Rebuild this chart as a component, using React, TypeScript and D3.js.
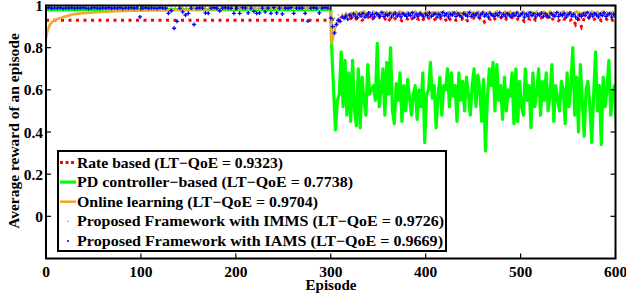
import React from "react";
import * as d3 from "d3";

const W = 626;
const H = 297;

// x ticks / y ticks
const xTicks = [0, 100, 200, 300, 400, 500, 600];
const yTicks = [0, 0.2, 0.4, 0.6, 0.8, 1];
const yTickLabels = ["0", "0.2", "0.4", "0.6", "0.8", "1"];

// Rate based: constant before 300, noisy after (episodes 300..600 step 3)
const ratePre = [0.93, 0.93];
const ratePreEp = [0, 300];
const ratePost = [
  0.93, 0.935, 0.94, 0.928, 0.936, 0.945, 0.932, 0.94, 0.925, 0.938,
  0.942, 0.93, 0.936, 0.948, 0.927, 0.94, 0.935, 0.944, 0.93, 0.938,
  0.92, 0.94, 0.946, 0.933, 0.938, 0.928, 0.942, 0.936, 0.95, 0.93,
  0.94, 0.934, 0.945, 0.925, 0.938, 0.942, 0.93, 0.937, 0.948, 0.932,
  0.94, 0.918, 0.936, 0.944, 0.93, 0.94, 0.935, 0.946, 0.928, 0.938,
  0.942, 0.93, 0.936, 0.945, 0.922, 0.94, 0.935, 0.948, 0.93, 0.938,
  0.944, 0.928, 0.94, 0.934, 0.946, 0.93, 0.938, 0.942, 0.925, 0.94,
  0.935, 0.945, 0.93, 0.938, 0.942, 0.932, 0.946, 0.93, 0.936, 0.94,
  0.928, 0.944, 0.935, 0.94, 0.93, 0.938, 0.91, 0.935, 0.90, 0.94,
  0.932, 0.945, 0.93, 0.938, 0.942, 0.928, 0.94, 0.935, 0.945, 0.93,
  0.938,
];
const rateStep = 3;

// PD controller-based
const pdPre = [0.98, 0.98];
const pdPreEp = [0, 300];
const pdPost = [
  0.8, 0.6, 0.41, 0.55, 0.58, 0.78, 0.52, 0.74, 0.48, 0.68,
  0.45, 0.74, 0.5, 0.43, 0.7, 0.42, 0.66, 0.55, 0.48, 0.72,
  0.58, 0.6, 0.62, 0.55, 0.82, 0.52, 0.6, 0.7, 0.48, 0.73,
  0.58, 0.8, 0.5, 0.44, 0.63, 0.55, 0.68, 0.45, 0.62, 0.5,
  0.65, 0.56, 0.48, 0.58, 0.62, 0.46, 0.6, 0.52, 0.68, 0.35,
  0.58, 0.6, 0.73, 0.56, 0.62, 0.42, 0.57, 0.66, 0.48, 0.62,
  0.6, 0.7, 0.52, 0.68, 0.57, 0.62, 0.45, 0.68, 0.55, 0.64,
  0.5, 0.66, 0.58, 0.48, 0.62, 0.7, 0.52, 0.67, 0.6, 0.45,
  0.65, 0.31, 0.56, 0.7, 0.62, 0.73, 0.5, 0.72, 0.55, 0.62,
  0.46, 0.66, 0.5, 0.6, 0.57, 0.68, 0.44, 0.7, 0.45, 0.64,
  0.52, 0.48, 0.7, 0.55, 0.62, 0.42, 0.68, 0.52, 0.58, 0.7,
  0.48, 0.64, 0.55, 0.68, 0.5, 0.58, 0.72, 0.45, 0.62, 0.56,
  0.5, 0.64, 0.6, 0.44, 0.68, 0.52, 0.62, 0.8, 0.48, 0.66,
  0.4, 0.72, 0.55, 0.38, 0.6, 0.64, 0.52, 0.35, 0.58, 0.78,
  0.5, 0.62, 0.34, 0.66, 0.52, 0.6, 0.74, 0.48, 0.58, 0.62,
  0.44,
];
const pdPostStart = 301;
const pdStep = 2;

// Online learning
const onlinePreEp = [0, 1, 2, 4, 6, 10, 15, 20, 29, 40, 57, 80, 120, 160, 200, 250, 300];
const onlinePre = [0.846, 0.87, 0.885, 0.907, 0.92, 0.932, 0.94, 0.948, 0.959, 0.964, 0.969, 0.974, 0.978, 0.981, 0.984, 0.985, 0.985];
const onlinePost = [
  0.82, 0.86, 0.9, 0.92, 0.94, 0.945, 0.95, 0.955, 0.96, 0.952,
  0.965, 0.958, 0.962, 0.97, 0.955, 0.966, 0.96, 0.972, 0.958, 0.965,
  0.968, 0.955, 0.97, 0.962, 0.966, 0.958, 0.972, 0.96, 0.965, 0.97,
  0.955, 0.968, 0.962, 0.97, 0.958, 0.965, 0.972, 0.96, 0.966, 0.955,
  0.97, 0.962, 0.968, 0.958, 0.972, 0.965, 0.96, 0.97, 0.955, 0.966,
  0.962, 0.972, 0.958, 0.968, 0.965, 0.96, 0.97, 0.955, 0.966, 0.972,
  0.96, 0.965, 0.97, 0.958, 0.968, 0.962, 0.972, 0.955, 0.966, 0.96,
  0.97, 0.964, 0.958, 0.972, 0.962, 0.968, 0.955, 0.97, 0.96, 0.966,
  0.972, 0.958, 0.965, 0.97, 0.962, 0.955, 0.968, 0.972, 0.96, 0.966,
  0.958, 0.97, 0.964, 0.96, 0.972, 0.955, 0.968, 0.962, 0.97, 0.958,
  0.966, 0.972, 0.96, 0.965, 0.97, 0.955, 0.968, 0.962, 0.972, 0.958,
  0.966, 0.96, 0.97, 0.964, 0.955, 0.972, 0.962, 0.968, 0.958, 0.97,
  0.96, 0.966, 0.972, 0.955, 0.968, 0.962, 0.97, 0.958, 0.965, 0.972,
  0.96, 0.966, 0.955, 0.97, 0.962, 0.968, 0.958, 0.972, 0.964, 0.96,
  0.97, 0.955, 0.966, 0.972, 0.96, 0.968, 0.962, 0.958, 0.97, 0.965,
];
const onlinePostStart = 301;
const onlineStep = 2;

// Proposed framework with IMMS (small gray dots), episodes step 4
const immsValues = [
  0.99, 0.99, 0.988, 0.99, 0.99, 0.989, 0.99, 0.99, 0.988, 0.99,
  0.99, 0.989, 0.99, 0.988, 0.99, 0.99, 0.989, 0.99, 0.99, 0.988,
  0.99, 0.99, 0.989, 0.99, 0.988, 0.99, 0.99, 0.989, 0.99, 0.99,
  0.988, 0.99, 0.99, 0.989, 0.99, 0.988, 0.99, 0.99, 0.989, 0.99,
  0.99, 0.988, 0.99, 0.99, 0.989, 0.99, 0.988, 0.99, 0.99, 0.989,
  0.99, 0.988, 0.99, 0.99, 0.989, 0.99, 0.988, 0.99, 0.99, 0.989,
  0.99, 0.988, 0.99, 0.99, 0.989, 0.99, 0.988, 0.99, 0.99, 0.989,
  0.99, 0.988, 0.99, 0.99, 0.989,
  0.92, 0.94, 0.955, 0.96, 0.965, 0.958, 0.968, 0.962, 0.97, 0.96,
  0.966, 0.972, 0.96, 0.965, 0.97, 0.958, 0.968, 0.962, 0.972, 0.96,
  0.966, 0.958, 0.97, 0.964, 0.96, 0.972, 0.962, 0.968, 0.958, 0.97,
  0.96, 0.966, 0.972, 0.962, 0.968, 0.96, 0.97, 0.958, 0.966, 0.972,
  0.96, 0.965, 0.97, 0.962, 0.968, 0.958, 0.972, 0.964, 0.96, 0.97,
  0.962, 0.968, 0.958, 0.97, 0.964, 0.96, 0.972, 0.962, 0.966, 0.96,
  0.97, 0.964, 0.958, 0.968, 0.962, 0.97, 0.96, 0.966, 0.972, 0.962,
  0.968, 0.96, 0.97, 0.964, 0.96,
];
const immsStep = 4;

// Proposed framework with IAMS (blue +), pre: step 3 from 0
const iamsPre = [
  0.988, 0.99, 0.987, 0.989, 0.988, 0.99, 0.986, 0.989, 0.988, 0.99,
  0.987, 0.989, 0.988, 0.99, 0.988, 0.986, 0.989, 0.99, 0.988, 0.987,
  0.989, 0.988, 0.99, 0.987, 0.989, 0.988, 0.99, 0.986, 0.989, 0.988,
  0.99, 0.987, 0.989, 0.946, 0.988, 0.99, 0.987, 0.989, 0.988, 0.986,
  0.99, 0.988, 0.987, 0.963, 0.975, 0.892, 0.925, 0.988, 0.97, 0.955,
  0.963, 0.988, 0.91, 0.987, 0.989, 0.988, 0.965, 0.963, 0.988, 0.99,
  0.987, 0.975, 0.988, 0.99, 0.988, 0.987, 0.963, 0.988, 0.963, 0.99,
  0.988, 0.965, 0.988, 0.972, 0.963, 0.965, 0.988, 0.97, 0.988, 0.963,
  0.99, 0.965, 0.988, 0.96, 0.988, 0.987, 0.99, 0.963, 0.988, 0.987,
  0.988, 0.963, 0.926, 0.988, 0.99, 0.987, 0.965, 0.988, 0.99, 0.988,
];
const iamsPreStep = 3;
// post: step 2 from 300
const iamsPost = [
  0.94, 0.9, 0.87, 0.91, 0.93, 0.925, 0.945, 0.94, 0.95, 0.935,
  0.955, 0.945, 0.96, 0.95, 0.942, 0.958, 0.95, 0.962, 0.945, 0.955,
  0.965, 0.95, 0.958, 0.946, 0.962, 0.955, 0.95, 0.966, 0.948, 0.958,
  0.952, 0.962, 0.945, 0.956, 0.964, 0.95, 0.958, 0.946, 0.962, 0.955,
  0.948, 0.96, 0.952, 0.966, 0.945, 0.958, 0.95, 0.962, 0.955, 0.946,
  0.96, 0.952, 0.965, 0.948, 0.956, 0.962, 0.945, 0.958, 0.95, 0.966,
  0.952, 0.96, 0.946, 0.958, 0.955, 0.964, 0.948, 0.96, 0.952, 0.945,
  0.962, 0.955, 0.95, 0.966, 0.948, 0.958, 0.952, 0.962, 0.945, 0.956,
  0.964, 0.95, 0.958, 0.946, 0.962, 0.955, 0.948, 0.96, 0.952, 0.966,
  0.945, 0.958, 0.95, 0.962, 0.955, 0.946, 0.96, 0.952, 0.965, 0.948,
  0.956, 0.962, 0.945, 0.958, 0.95, 0.966, 0.952, 0.96, 0.946, 0.958,
  0.955, 0.964, 0.948, 0.96, 0.952, 0.945, 0.962, 0.955, 0.95, 0.966,
  0.948, 0.958, 0.952, 0.962, 0.945, 0.956, 0.964, 0.95, 0.958, 0.946,
  0.935, 0.955, 0.948, 0.96, 0.952, 0.966, 0.945, 0.958, 0.95, 0.962,
  0.955, 0.946, 0.96, 0.952, 0.965, 0.948, 0.956, 0.962, 0.945, 0.958,
  0.95,
];
const iamsPostStart = 300;
const iamsPostStep = 2;

const legendLabels = [
  "Rate based (LT\u2212QoE = 0.9323)",
  "PD controller\u2212based (LT\u2212QoE = 0.7738)",
  "Online learning (LT\u2212QoE = 0.9704)",
  "Proposed Framework with IMMS (LT\u2212QoE = 0.9726)",
  "Proposed Framework with IAMS (LT\u2212QoE = 0.9669)",
];
const legendTextWidths = [206, 276, 241, 367, 366];

const RED = "#ff0000";
const GREEN = "#00ff00";
const ORANGE = "#f0a830";
const BLUE = "#0000ff";
const GRAY = "#8a8a8a";

type P = [number, number];

export default function App() {
  const left = 46, right = 615.5, top = 5.5, bottom = 258.5;
  const x = d3.scaleLinear().domain([0, 600]).range([left, right]);
  const y = d3.scaleLinear().domain([-0.2, 1]).range([bottom, top]);
  const line = d3.line<P>().x((d) => x(d[0])).y((d) => y(d[1]));

  const ratePts: P[] = [
    ...ratePre.map((v, i) => [ratePreEp[i], v] as P),
    ...ratePost.map((v, i) => [300 + i * rateStep, v] as P),
  ];
  const pdPts: P[] = [
    ...pdPre.map((v, i) => [pdPreEp[i], v] as P),
    ...pdPost.map((v, i) => [pdPostStart + i * pdStep, v] as P),
  ];
  const onlinePts: P[] = [
    ...onlinePre.map((v, i) => [onlinePreEp[i], v] as P),
    ...onlinePost.map((v, i) => [onlinePostStart + i * onlineStep, v] as P),
  ];
  const immsPts: P[] = immsValues.map((v, i) => [i * immsStep, v] as P);
  const iamsPts: P[] = [
    ...iamsPre.map((v, i) => [i * iamsPreStep, v] as P),
    ...iamsPost.map((v, i) => [iamsPostStart + i * iamsPostStep, v] as P),
  ];

  const font = "'Liberation Serif', 'Times New Roman', serif";
  const tickLen = 5;

  const lgX = 58, lgY = 151, lgW = 388, lgH = 100;
  const rowY = (i: number) => 162.5 + i * 19.6;

  return (
    <svg
      width={W}
      height={H}
      style={{ position: "absolute", left: 0, top: 0, background: "#fff" }}
      fontFamily={font}
      fontWeight="bold"
    >
      <rect x={0} y={0} width={W} height={H} fill="#fff" />
      <defs>
        <clipPath id="plotClip">
          <rect x={left} y={top - 3} width={right - left} height={bottom - top + 3} />
        </clipPath>
      </defs>

      <g clipPath="url(#plotClip)">
        <path d={line(pdPts) || ""} fill="none" stroke={GREEN} strokeWidth={3.2} strokeLinejoin="round" />
        <path d={line(ratePts) || ""} fill="none" stroke={RED} strokeWidth={3} strokeDasharray="3,4.5" />
        <path d={line(onlinePts) || ""} fill="none" stroke={ORANGE} strokeWidth={2.6} strokeLinejoin="round" />
        {immsPts.map((d, i) => (
          <circle key={"g" + i} cx={x(d[0])} cy={y(d[1])} r={0.8} fill={GRAY} />
        ))}
        {iamsPts.map((d, i) => (
          <path
            key={"b" + i}
            d={`M${x(d[0]) - 2},${y(d[1])}H${x(d[0]) + 2}M${x(d[0])},${y(d[1]) - 2}V${y(d[1]) + 2}`}
            stroke={BLUE}
            strokeWidth={1.3}
          />
        ))}
      </g>

      {/* axes box */}
      <rect x={left} y={top} width={right - left} height={bottom - top} fill="none" stroke="#000" strokeWidth={2} />

      {/* x ticks */}
      {xTicks.map((t) => (
        <g key={"x" + t}>
          <line x1={x(t)} x2={x(t)} y1={bottom} y2={bottom - tickLen} stroke="#000" strokeWidth={1.2} />
          <line x1={x(t)} x2={x(t)} y1={top} y2={top + tickLen} stroke="#000" strokeWidth={1.2} />
          <text x={x(t)} y={bottom + 18.5} textAnchor="middle" fontSize={15.5}>
            {t}
          </text>
        </g>
      ))}
      {/* y ticks */}
      {yTicks.map((t, i) => (
        <g key={"y" + t}>
          <line x1={left} x2={left + tickLen} y1={y(t)} y2={y(t)} stroke="#000" strokeWidth={1.2} />
          <line x1={right} x2={right - tickLen} y1={y(t)} y2={y(t)} stroke="#000" strokeWidth={1.2} />
          <text x={left - 3} y={y(t) + 5.5} textAnchor="end" fontSize={15.5}>
            {yTickLabels[i]}
          </text>
        </g>
      ))}

      <text x={331} y={290} textAnchor="middle" fontSize={15}>
        Episode
      </text>
      <text
        transform={`translate(19,${131}) rotate(-90)`}
        textAnchor="middle"
        fontSize={15.5}
      >
        Average reward of an episode
      </text>

      {/* legend */}
      <rect x={lgX} y={lgY} width={lgW} height={lgH} fill="#fff" stroke="#000" strokeWidth={2} />
      <line x1={60} x2={76} y1={rowY(0)} y2={rowY(0)} stroke={RED} strokeWidth={3} strokeDasharray="3,2.5" />
      <line x1={60} x2={76} y1={rowY(1)} y2={rowY(1)} stroke={GREEN} strokeWidth={3.2} />
      <line x1={60} x2={76} y1={rowY(2)} y2={rowY(2)} stroke={ORANGE} strokeWidth={2.6} />
      <circle cx={68} cy={rowY(3)} r={0.8} fill={GRAY} />
      <circle cx={68} cy={rowY(4)} r={1} fill={BLUE} />
      {legendLabels.map((l, i) => (
        <text
          key={l}
          x={77}
          y={rowY(i) + 5}
          fontSize={15}
          textLength={legendTextWidths[i]}
          lengthAdjust="spacingAndGlyphs"
        >
          {l}
        </text>
      ))}
    </svg>
  );
}
